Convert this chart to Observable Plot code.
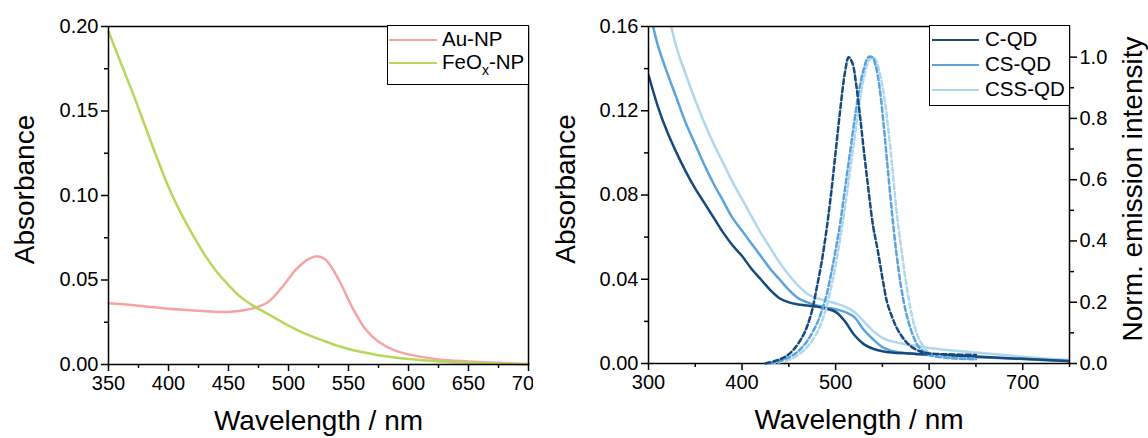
<!DOCTYPE html>
<html>
<head>
<meta charset="utf-8">
<script src="https://cdn.jsdelivr.net/npm/d3@7"></script>
<script src="https://cdn.jsdelivr.net/npm/@observablehq/plot@0.6"></script>
<style>
  html, body { margin: 0; padding: 0; background: #fff; }
  body { font-family: "Liberation Sans", Arial, Helvetica, sans-serif; color: #000; }
  #wrap { position: relative; width: 1148px; height: 438px; overflow: hidden; background: #fff; }
  .layer { position: absolute; top: 0; }
  .legend { position: absolute; box-sizing: border-box; border: 1.5px solid #000; background: #fff; font-size: 20.5px; }
  .legend .sw { position: absolute; height: 2.5px; }
  .legend .lb { position: absolute; line-height: 20px; white-space: nowrap; }
</style>
</head>
<body>
<div id="wrap">
  <div id="left" class="layer" style="left:0"></div>
  <div id="right" class="layer" style="left:533px"></div>
  <div id="rightOverlay" class="layer" style="left:533px"></div>
</div>
<script>
// ---------- data: left panel (absorbance of nanoparticles) ----------
const auWl  = [350, 375, 400, 425, 445, 464, 472, 483, 495, 506, 517, 524, 531, 542, 553, 564, 575, 589, 600, 625, 650, 675, 700];
const auAbs = [0.0363, 0.0348, 0.0330, 0.0318, 0.0310, 0.0323, 0.0335, 0.0370, 0.0460, 0.0560, 0.0625, 0.0640, 0.0620, 0.0500, 0.0340, 0.0210, 0.0135, 0.0082, 0.0060, 0.0030, 0.0018, 0.0010, 0.0003];

const feWl  = [350, 360, 370, 380, 390, 400, 410, 420, 430, 440, 450, 460, 470, 480, 490, 500, 510, 520, 530, 540, 550, 560, 575, 600, 625, 650, 675, 700];
const feAbs = [0.197, 0.179, 0.161, 0.142, 0.123, 0.105, 0.090, 0.077, 0.065, 0.055, 0.047, 0.040, 0.035, 0.031, 0.027, 0.023, 0.0195, 0.0165, 0.0138, 0.0113, 0.0092, 0.0075, 0.0055, 0.0032, 0.0018, 0.0010, 0.0005, 0.0000];

// ---------- data: right panel (quantum dots) ----------
const qdWl   = [300, 310, 320, 330, 340, 350, 360, 370, 380, 390, 400, 410, 420, 430, 440, 450, 460, 470, 480, 490, 500, 510, 520, 530, 540, 550, 560, 580, 600, 650, 700, 750];
const cAbs   = [0.137, 0.122, 0.110, 0.100, 0.091, 0.083, 0.076, 0.069, 0.062, 0.056, 0.051, 0.045, 0.040, 0.035, 0.031, 0.029, 0.028, 0.0275, 0.027, 0.026, 0.0245, 0.020, 0.0135, 0.0092, 0.0070, 0.0058, 0.0052, 0.0047, 0.0043, 0.0033, 0.0022, 0.0012];
const csAbs  = [0.170, 0.151, 0.138, 0.126, 0.114, 0.104, 0.094, 0.085, 0.077, 0.069, 0.063, 0.057, 0.051, 0.045, 0.040, 0.035, 0.031, 0.029, 0.0275, 0.0265, 0.0258, 0.0245, 0.022, 0.016, 0.0115, 0.0078, 0.0060, 0.0047, 0.0040, 0.0030, 0.0021, 0.0010];
const cssAbs = [0.205, 0.186, 0.168, 0.150, 0.137, 0.125, 0.114, 0.104, 0.095, 0.086, 0.078, 0.070, 0.062, 0.055, 0.048, 0.042, 0.037, 0.033, 0.031, 0.0298, 0.0285, 0.027, 0.0245, 0.020, 0.0155, 0.0122, 0.0105, 0.0088, 0.0074, 0.0052, 0.0032, 0.0016];

const cEmWl = [425, 435, 445, 455, 465, 470, 475, 480, 485, 490, 495, 500, 505, 510, 514, 518, 522, 526, 530, 535, 540, 545, 550, 555, 560, 565, 570, 575, 580, 590, 600, 620, 650];
const cEm   = [0, 0.008, 0.02, 0.045, 0.09, 0.125, 0.175, 0.25, 0.33, 0.43, 0.55, 0.69, 0.83, 0.95, 1.0, 0.98, 0.91, 0.81, 0.70, 0.57, 0.45, 0.37, 0.28, 0.20, 0.155, 0.118, 0.092, 0.072, 0.057, 0.040, 0.033, 0.030, 0.028];

const sEmWl = [430, 440, 450, 460, 470, 480, 485, 490, 495, 500, 505, 510, 515, 520, 525, 530, 535, 539, 543, 547, 551, 555, 560, 565, 570, 575, 580, 585, 590, 600, 620, 650];
const csEm  = [0, 0.008, 0.02, 0.04, 0.075, 0.13, 0.17, 0.22, 0.29, 0.37, 0.46, 0.57, 0.68, 0.79, 0.89, 0.96, 1.0, 1.0, 0.97, 0.90, 0.79, 0.66, 0.50, 0.36, 0.25, 0.17, 0.115, 0.075, 0.05, 0.028, 0.018, 0.014];
const cssEm = [0, 0.004, 0.012, 0.028, 0.055, 0.10, 0.135, 0.18, 0.245, 0.32, 0.41, 0.51, 0.62, 0.73, 0.84, 0.93, 0.985, 1.0, 0.99, 0.95, 0.89, 0.80, 0.66, 0.50, 0.38, 0.27, 0.18, 0.115, 0.075, 0.035, 0.02, 0.015];

// ---------- ticks ----------
const leftXMajor = [350, 400, 450, 500, 550, 600, 650, 700];
const leftXMinor = [375, 425, 475, 525, 575, 625, 675];
const leftYMajor = [0, 0.05, 0.10, 0.15, 0.20];
const leftYMinor = [0.025, 0.075, 0.125, 0.175];
const rightXMajor = [300, 400, 500, 600, 700];
const rightXMinor = [350, 450, 550, 650, 750];
const rightYMajor = [0, 0.04, 0.08, 0.12, 0.16];
const rightYMinor = [0.02, 0.06, 0.10, 0.14];
const emYMajor = [0, 0.2, 0.4, 0.6, 0.8, 1.0];
const emYMinor = [0.1, 0.3, 0.5, 0.7, 0.9];

// ---------- series labels & colours ----------
const leftSeries  = ["Au-NP", "FeOx-NP"];
const leftColors  = ["#f5a3a3", "#b7d65c"];
const rightSeries = ["C-QD", "CS-QD", "CSS-QD"];
const rightColors = ["#174a7c", "#5ba3dc", "#afd7ee"];

const FONT = '"Liberation Sans", Arial, Helvetica, sans-serif';
const rows = (xs, ys) => xs.map((x, i) => ({x, y: ys[i]}));
const TICK_FS = 20, TITLE_FS = 28;
const CURVE = "catmull-rom";
const XTITLE_DY = 65;

// ---------- left chart ----------
const leftPlot = Plot.plot({
  width: 533, height: 438,
  marginLeft: 108, marginRight: 5, marginTop: 26, marginBottom: 74,
  style: {fontFamily: FONT, fontSize: TICK_FS + "px", color: "#000", background: "transparent", overflow: "hidden"},
  x: {domain: [350, 700], axis: null},
  y: {domain: [0, 0.2], axis: null},
  marks: [
    Plot.line(rows(auWl, auAbs), {x: "x", y: "y", stroke: leftColors[0], strokeWidth: 2.5, curve: CURVE}),
    Plot.line(rows(feWl, feAbs), {x: "x", y: "y", stroke: leftColors[1], strokeWidth: 2.5, curve: CURVE}),
    Plot.frame({stroke: "#000", strokeWidth: 1.5}),
    Plot.axisX({ticks: leftXMajor, tickSize: 7, tickPadding: 4, tickFormat: d => String(d), label: null, strokeWidth: 1.5, fontSize: TICK_FS}),
    Plot.axisX({ticks: leftXMinor, tickSize: 4, tickFormat: () => "", label: null, strokeWidth: 1.5}),
    Plot.axisY({ticks: leftYMajor, tickSize: 7, tickPadding: 3, tickFormat: d3.format(".2f"), label: null, strokeWidth: 1.5, fontSize: TICK_FS}),
    Plot.axisY({ticks: leftYMinor, tickSize: 4, tickFormat: () => "", label: null, strokeWidth: 1.5}),
    Plot.text(["Wavelength / nm"], {text: d => d, frameAnchor: "bottom", textAnchor: "middle", dy: XTITLE_DY, fontSize: TITLE_FS}),
    Plot.text(["Absorbance"], {text: d => d, frameAnchor: "left", textAnchor: "middle", rotate: -90, dx: -83, dy: -6, fontSize: TITLE_FS})
  ]
});
document.getElementById("left").appendChild(leftPlot);

// ---------- right chart (absorbance) ----------
const R = {width: 615, height: 438, marginLeft: 115, marginRight: 79, marginTop: 26, marginBottom: 75};
const rightPlot = Plot.plot({
  ...R,
  style: {fontFamily: FONT, fontSize: TICK_FS + "px", color: "#000", background: "transparent", overflow: "visible"},
  x: {domain: [300, 750], axis: null},
  y: {domain: [0, 0.16], axis: null},
  marks: [
    Plot.line(rows(qdWl, cssAbs), {x: "x", y: "y", stroke: rightColors[2], strokeWidth: 2.5, curve: CURVE, clip: true}),
    Plot.line(rows(qdWl, csAbs),  {x: "x", y: "y", stroke: rightColors[1], strokeWidth: 2.5, curve: CURVE, clip: true}),
    Plot.line(rows(qdWl, cAbs),   {x: "x", y: "y", stroke: rightColors[0], strokeWidth: 2.5, curve: CURVE, clip: true}),
    Plot.frame({stroke: "#000", strokeWidth: 1.5}),
    Plot.axisX({ticks: rightXMajor, tickSize: 7, tickPadding: 4, tickFormat: d => String(d), label: null, strokeWidth: 1.5, fontSize: TICK_FS}),
    Plot.axisX({ticks: rightXMinor, tickSize: 4, tickFormat: () => "", label: null, strokeWidth: 1.5}),
    Plot.axisY({ticks: rightYMajor, tickSize: 7, tickPadding: 3, tickFormat: d3.format(".2f"), label: null, strokeWidth: 1.5, fontSize: TICK_FS}),
    Plot.axisY({ticks: rightYMinor, tickSize: 4, tickFormat: () => "", label: null, strokeWidth: 1.5}),
    Plot.text(["Wavelength / nm"], {text: d => d, frameAnchor: "bottom", textAnchor: "middle", dy: XTITLE_DY, fontSize: TITLE_FS}),
    Plot.text(["Absorbance"], {text: d => d, frameAnchor: "left", textAnchor: "middle", rotate: -90, dx: -82, dy: -6, fontSize: TITLE_FS})
  ]
});
document.getElementById("right").appendChild(rightPlot);

// ---------- right chart overlay (normalised emission, right axis) ----------
const emPlot = Plot.plot({
  ...R,
  style: {fontFamily: FONT, fontSize: TICK_FS + "px", color: "#000", background: "transparent", overflow: "visible"},
  x: {domain: [300, 750], axis: null},
  y: {domain: [0, 1.1], axis: null},
  marks: [
    Plot.line(rows(sEmWl, cssEm), {x: "x", y: "y", stroke: rightColors[2], strokeWidth: 2.5, strokeDasharray: "5,3", curve: CURVE}),
    Plot.line(rows(sEmWl, csEm),  {x: "x", y: "y", stroke: rightColors[1], strokeWidth: 2.5, strokeDasharray: "5,3", curve: CURVE}),
    Plot.line(rows(cEmWl, cEm),   {x: "x", y: "y", stroke: rightColors[0], strokeWidth: 2.5, strokeDasharray: "5,3", curve: CURVE}),
    Plot.axisY({anchor: "right", ticks: emYMajor, tickSize: 7, tickPadding: 3, tickFormat: d3.format(".1f"), label: null, strokeWidth: 1.5, fontSize: TICK_FS}),
    Plot.axisY({anchor: "right", ticks: emYMinor, tickSize: 4, tickFormat: () => "", label: null, strokeWidth: 1.5}),
    Plot.text(["Norm. emission intensity"], {text: d => d, frameAnchor: "right", textAnchor: "middle", rotate: -90, dx: 64, dy: -6, fontSize: TITLE_FS})
  ]
});
document.getElementById("rightOverlay").appendChild(emPlot);

// ---------- legends ----------
function legend(box, labels, colors, opts) {
  const el = document.createElement("div");
  el.className = "legend";
  Object.assign(el.style, {left: box.left + "px", top: box.top + "px", width: box.width + "px", height: box.height + "px"});
  labels.forEach((lab, i) => {
    const cy = opts.first + i * opts.step;
    const sw = document.createElement("div");
    sw.className = "sw";
    Object.assign(sw.style, {left: opts.lineX + "px", width: opts.lineLen + "px", top: (cy - 1.25) + "px", background: colors[i]});
    const lb = document.createElement("div");
    lb.className = "lb";
    Object.assign(lb.style, {left: opts.textX + "px", top: (cy - 11) + "px"});
    if (lab === "FeOx-NP") {
      lb.innerHTML = 'FeO<span style="font-size:14px;position:relative;top:6px">x</span>-NP';
    } else {
      lb.textContent = lab;
    }
    el.appendChild(sw);
    el.appendChild(lb);
  });
  document.getElementById("wrap").appendChild(el);
}
legend({left: 387, top: 25, width: 142, height: 60}, leftSeries, leftColors, {first: 14, step: 23, lineX: 1, lineLen: 48, textX: 54});
legend({left: 929, top: 25, width: 141, height: 81}, rightSeries, rightColors, {first: 14, step: 25, lineX: 2, lineLen: 47, textX: 55});
</script>
</body>
</html>
